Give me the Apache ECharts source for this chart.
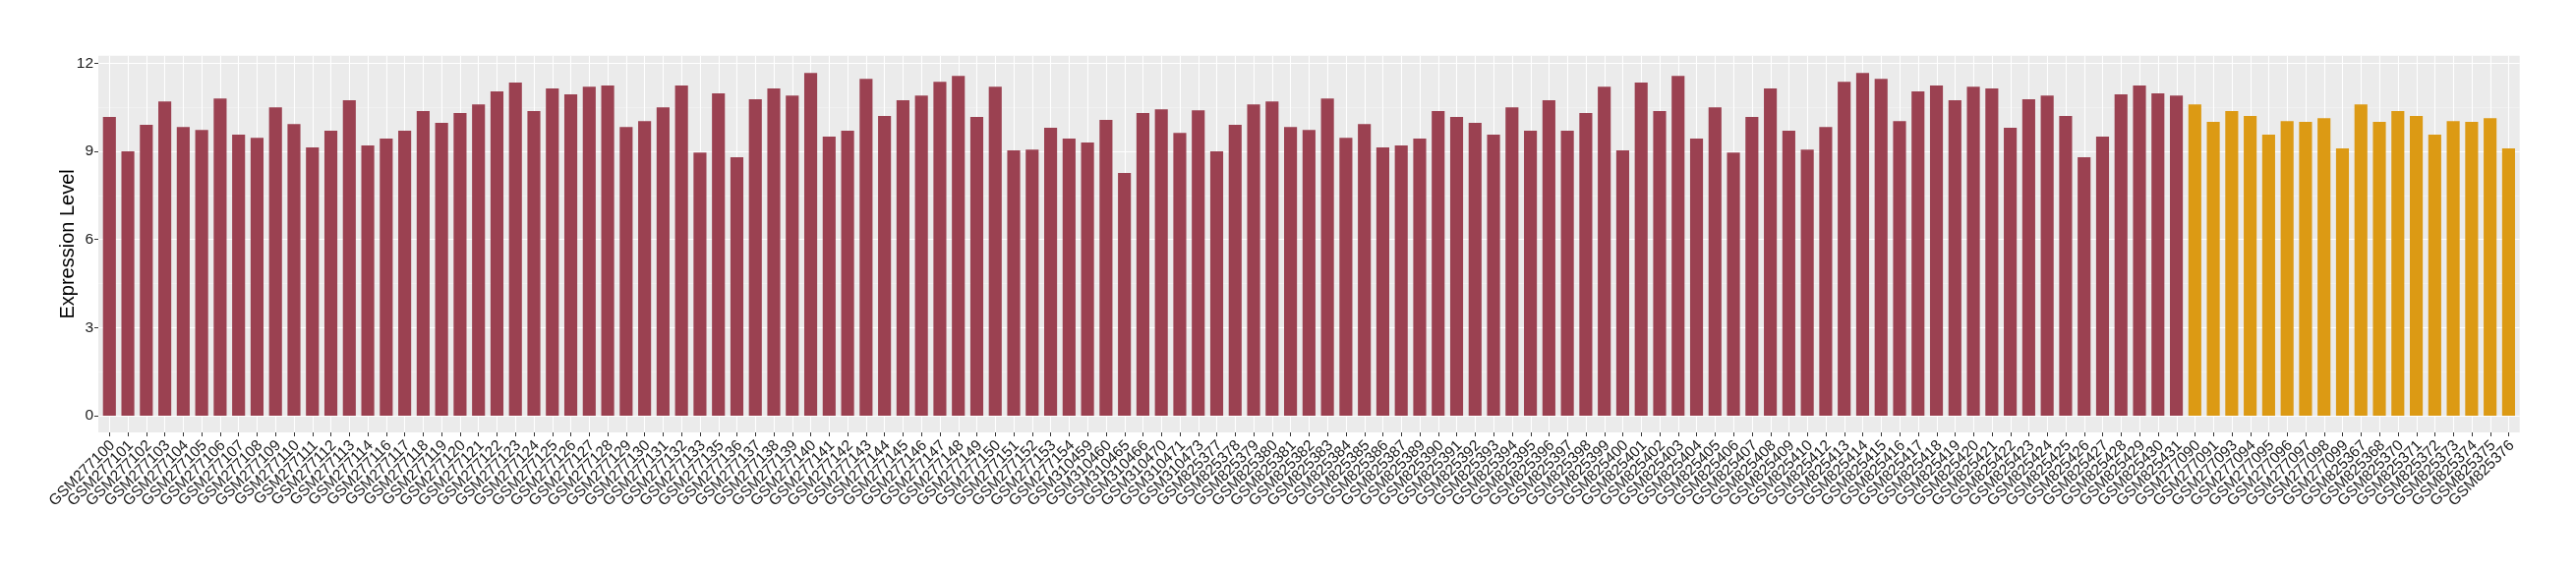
<!DOCTYPE html>
<html><head><meta charset="utf-8">
<script src="https://cdn.jsdelivr.net/npm/echarts@6/dist/echarts.min.js"></script>
<style>html,body{margin:0;padding:0;background:#fff}#c{width:2620px;height:580px}</style>
</head><body><div id="c"></div>
<script>
// ---- data ----
const redSamples = [
  'GSM277100','GSM277101','GSM277102','GSM277103','GSM277104','GSM277105','GSM277106','GSM277107','GSM277108','GSM277109',
  'GSM277110','GSM277111','GSM277112','GSM277113','GSM277114','GSM277116','GSM277117','GSM277118','GSM277119','GSM277120',
  'GSM277121','GSM277122','GSM277123','GSM277124','GSM277125','GSM277126','GSM277127','GSM277128','GSM277129','GSM277130',
  'GSM277131','GSM277132','GSM277133','GSM277135','GSM277136','GSM277137','GSM277138','GSM277139','GSM277140','GSM277141',
  'GSM277142','GSM277143','GSM277144','GSM277145','GSM277146','GSM277147','GSM277148','GSM277149','GSM277150','GSM277151',
  'GSM277152','GSM277153','GSM277154','GSM310459','GSM310460','GSM310465','GSM310466','GSM310470','GSM310471','GSM310473',
  'GSM825377','GSM825378','GSM825379','GSM825380','GSM825381','GSM825382','GSM825383','GSM825384','GSM825385','GSM825386',
  'GSM825387','GSM825389','GSM825390','GSM825391','GSM825392','GSM825393','GSM825394','GSM825395','GSM825396','GSM825397',
  'GSM825398','GSM825399','GSM825400','GSM825401','GSM825402','GSM825403','GSM825404','GSM825405','GSM825406','GSM825407',
  'GSM825408','GSM825409','GSM825410','GSM825412','GSM825413','GSM825414','GSM825415','GSM825416','GSM825417','GSM825418',
  'GSM825419','GSM825420','GSM825421','GSM825422','GSM825423','GSM825424','GSM825425','GSM825426','GSM825427','GSM825428',
  'GSM825429','GSM825430','GSM825431'
];
const redValues = [
  10.17, 9.00, 9.90,10.70, 9.83, 9.73,10.80, 9.57, 9.46,10.50,
   9.93, 9.13, 9.70,10.74, 9.20, 9.43, 9.70,10.37, 9.97,10.30,
  10.60,11.04,11.34,10.37,11.14,10.94,11.20,11.24, 9.83,10.03,
  10.50,11.24, 8.96,10.97, 8.80,10.77,11.14,10.90,11.67, 9.50,
   9.70,11.47,10.20,10.74,10.90,11.37,11.57,10.17,11.20, 9.03,
   9.06, 9.80, 9.43, 9.30,10.07, 8.26,10.30,10.43, 9.63,10.40,
   9.00, 9.90,10.60,10.70, 9.83, 9.73,10.80, 9.46, 9.93, 9.13,
   9.20, 9.43,10.37,10.17, 9.97, 9.57,10.50, 9.70,10.74, 9.70,
  10.30,11.20, 9.03,11.34,10.37,11.57, 9.43,10.50, 8.96,10.17,
  11.14, 9.70, 9.06, 9.83,11.37,11.67,11.47,10.03,11.04,11.24,
  10.74,11.20,11.14, 9.80,10.77,10.90,10.20, 8.80, 9.50,10.94,
  11.24,10.97,10.90
];
const orangeSamples = [
  'GSM277090','GSM277091','GSM277093','GSM277094','GSM277095','GSM277096','GSM277097','GSM277098','GSM277099',
  'GSM825367','GSM825368','GSM825370','GSM825371','GSM825372','GSM825373','GSM825374','GSM825375','GSM825376'
];
const orangeValues = [
  10.60,10.00,10.37,10.20, 9.57,10.03,10.00,10.13, 9.10,
  10.60,10.00,10.37,10.20, 9.57,10.03,10.00,10.13, 9.10
];
const yTicks = [0, 3, 6, 9, 12];
const yTitle = 'Expression Level';

// ---- build ----
const categories = redSamples.concat(orangeSamples);
const redData = redValues.concat(orangeSamples.map(() => null));
const orangeData = redSamples.map(() => null).concat(orangeValues);
const FONT = "'Liberation Sans', Arial, Helvetica, sans-serif";
const yMin = yTicks[0], yMax = yTicks[yTicks.length - 1], yStep = yTicks[1] - yTicks[0];

const chart = echarts.init(document.getElementById('c'), null, {renderer: 'canvas'});
chart.setOption({
  animation: false,
  backgroundColor: '#ffffff',
  textStyle: {fontFamily: FONT},
  grid: [
    {left: 100, right: 57.3, top: 56.7, bottom: 140, show: true, backgroundColor: '#EBEBEB', borderWidth: 0},
    {left: 100, right: 57.3, top: 64.3, bottom: 157},
    {left: 101.9, right: 59.2, top: 64.3, bottom: 157},
    {left: 111.3, right: 68.3, top: 56.7, bottom: 140},
    {left: 114.3, right: 65.3, top: 56.7, bottom: 140}
  ],
  xAxis: [
    {gridIndex: 0, type: 'value', show: false},
    {gridIndex: 1, type: 'value', show: false},
    {gridIndex: 2, type: 'category', data: categories, show: false, boundaryGap: true},
    {gridIndex: 3, type: 'category', data: categories, boundaryGap: false,
      axisLine: {show: false},
      axisTick: {show: true, interval: 0, length: 4, lineStyle: {color: '#333333', width: 1}},
      axisLabel: {show: false},
      splitLine: {show: true, interval: 0, lineStyle: {color: '#ffffff', width: 1.1}}},
    {gridIndex: 4, type: 'category', data: categories, boundaryGap: false,
      axisLine: {show: false}, axisTick: {show: false}, splitLine: {show: false},
      axisLabel: {interval: 0, rotate: 45, fontSize: 15.5, color: '#1a1a1a', margin: 11, fontFamily: FONT}}
  ],
  yAxis: [
    {gridIndex: 0, type: 'value', name: yTitle, nameLocation: 'middle', nameGap: 21, nameRotate: 90,
      nameTextStyle: {fontSize: 20, color: '#000000', fontFamily: FONT},
      axisLine: {show: false}, axisTick: {show: false}, axisLabel: {show: false}, splitLine: {show: false}},
    {gridIndex: 1, type: 'value', min: yMin, max: yMax, interval: yStep,
      axisLine: {show: false},
      axisTick: {show: true, length: 4, lineStyle: {color: '#333333', width: 1}},
      axisLabel: {fontSize: 15.5, color: '#1a1a1a', margin: 5, fontFamily: FONT},
      splitLine: {show: true, lineStyle: {color: '#ffffff', width: 1.1}},
      minorTick: {show: false, splitNumber: 2},
      minorSplitLine: {show: true, lineStyle: {color: '#F5F5F5', width: 0.6}}},
    {gridIndex: 2, type: 'value', min: yMin, max: yMax, show: false},
    {gridIndex: 3, type: 'value', show: false},
    {gridIndex: 4, type: 'value', show: false}
  ],
  series: [
    {type: 'bar', xAxisIndex: 2, yAxisIndex: 2, data: redData, barWidth: '70%', barGap: '-100%',
      itemStyle: {color: '#9B4151'}, silent: true},
    {type: 'bar', xAxisIndex: 2, yAxisIndex: 2, data: orangeData, barWidth: '70%', barGap: '-100%',
      itemStyle: {color: '#DC9A14'}, silent: true}
  ]
});
</script></body></html>
